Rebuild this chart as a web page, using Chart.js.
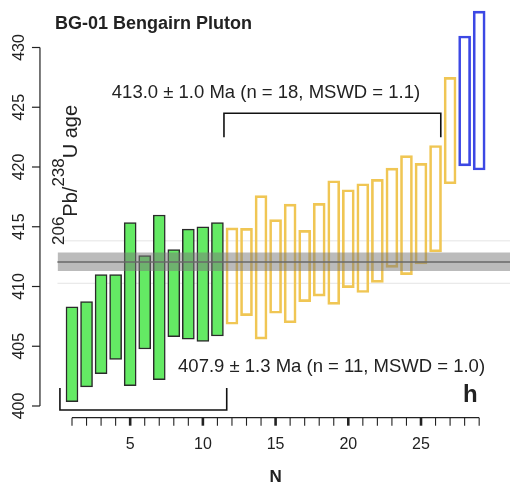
<!DOCTYPE html>
<html>
<head>
<meta charset="utf-8">
<script src="https://cdn.jsdelivr.net/npm/chart.js@4.4.1/dist/chart.umd.min.js"></script>
<style>
html,body{margin:0;padding:0;background:#fff;}
canvas{display:block;}
</style>
</head>
<body>
<canvas id="c" width="510" height="488"></canvas>
<script>
// ---------- data ----------
const greenN    = [1,2,3,4,5,6,7,8,9,10,11];
const greenLow  = [400.36,401.6,402.7,403.9,401.7,404.77,402.2,405.8,405.6,405.4,405.86];
const greenHigh = [408.3,408.73,411.0,411.0,415.34,412.58,415.98,413.1,414.8,415.0,415.34];

const yellowN    = [12,13,14,15,16,17,18,19,20,21,22,23,24,25,26,27];
const yellowLow  = [406.84,407.56,405.6,407.76,406.97,408.73,409.2,408.5,409.9,409.5,410.35,411.6,411.0,411.9,412.9,418.6];
const yellowHigh = [414.9,414.87,417.6,415.6,416.9,414.7,416.95,418.85,418.1,418.6,418.97,419.9,420.95,420.3,421.8,427.5];

const blueN    = [28,29];
const blueLow  = [420.1,419.75];
const blueHigh = [430.96,433.05];

const bandLow = 411.30, bandCentre = 412.05, bandHigh = 412.85;
const refLines = [410.27, 413.82];

const upperBracketX = [11.45, 26.36];
const upperBracketY = [422.5, 424.5];
const lowerBracketX = [0.17, 11.64];
const lowerBracketY = [401.5, 399.67];

const xTickValues = [1,2,3,4,5,6,7,8,9,10,11,12,13,14,15,16,17,18,19,20,21,22,23,24,25,26,27,28,29];
const xTickLabels = ['5','10','15','20','25'];
const xLabelValues = [5,10,15,20,25];
const yTickValues = [400,405,410,415,420,425,430];
const yTickLabels = ['400','405','410','415','420','425','430'];

const titleText  = 'BG-01 Bengairn Pluton';
const upperLabel = '413.0 \u00B1 1.0 Ma (n = 18, MSWD = 1.1)';
const lowerLabel = '407.9 \u00B1 1.3 Ma (n = 11, MSWD = 1.0)';
const panelLetter = 'h';
const xTitle = 'N';

// ---------- helpers ----------
const FONT = '"Liberation Sans", Arial, Helvetica, sans-serif';
const XMIN = 0, XMAX = 31.12;
function pts(ns, lo, hi){ return ns.map((n,i)=>({x:n, y:[lo[i], hi[i]]})); }
function hline(v){ return [{x:XMIN,y:v},{x:XMAX,y:v}]; }
function bracket(xs, ys){
  return [{x:xs[0],y:ys[0]},{x:xs[0],y:ys[1]},{x:xs[1],y:ys[1]},{x:xs[1],y:ys[0]}];
}

const barCommon = {type:'bar', grouped:false, barThickness:12, borderSkipped:false, clip:false, order:2};
const lineCommon = {type:'line', pointRadius:0, clip:false, tension:0, fill:false};

const rPlot = {
  id:'rPlot',
  afterDraw(chart){
    const ctx = chart.ctx, x = chart.scales.x, y = chart.scales.y;
    ctx.save();
    ctx.strokeStyle = '#222'; ctx.fillStyle = '#222';
    // x axis (detached, R style)
    const ax = y.getPixelForValue(400) + 11.7;
    ctx.lineWidth = 1.2;
    ctx.beginPath();
    ctx.moveTo(x.getPixelForValue(xTickValues[0]), ax);
    ctx.lineTo(x.getPixelForValue(xTickValues[xTickValues.length-1]), ax);
    ctx.stroke();
    xTickValues.forEach(v=>{
      const px = x.getPixelForValue(v);
      ctx.lineWidth = (xLabelValues.indexOf(v) >= 0) ? 2.6 : 1.1;
      ctx.beginPath(); ctx.moveTo(px, ax); ctx.lineTo(px, ax+8); ctx.stroke();
    });
    ctx.font = '16px ' + FONT;
    ctx.textAlign = 'center'; ctx.textBaseline = 'alphabetic';
    xLabelValues.forEach((v,i)=>{
      ctx.fillText(xTickLabels[i], x.getPixelForValue(v), ax + 31);
    });
    ctx.font = 'bold 17px ' + FONT;
    ctx.textBaseline = 'middle';
    ctx.fillText(xTitle, (x.getPixelForValue(1)+x.getPixelForValue(29))/2, ax + 60);

    // y axis
    const ay = x.getPixelForValue(0) - 17.5;
    ctx.lineWidth = 1.2;
    ctx.beginPath();
    ctx.moveTo(ay, y.getPixelForValue(yTickValues[0]));
    ctx.lineTo(ay, y.getPixelForValue(yTickValues[yTickValues.length-1]));
    ctx.stroke();
    ctx.font = '16px ' + FONT;
    yTickValues.forEach((v,i)=>{
      const py = y.getPixelForValue(v);
      ctx.lineWidth = 1.2;
      ctx.beginPath(); ctx.moveTo(ay, py); ctx.lineTo(ay-8, py); ctx.stroke();
      ctx.save();
      ctx.translate(ay-16, py);
      ctx.rotate(-Math.PI/2);
      ctx.textAlign = 'center'; ctx.textBaseline = 'alphabetic';
      ctx.fillText(yTickLabels[i], 0, 0);
      ctx.restore();
    });

    // y title with superscripts
    ctx.save();
    ctx.translate(ay + 37, y.getPixelForValue(400) - 161);
    ctx.rotate(-Math.PI/2);
    ctx.textAlign = 'left'; ctx.textBaseline = 'alphabetic';
    const parts = [['206',17,-13],['Pb/',20,0],['238',17,-13],['U age',20,0]];
    let cx = 0;
    parts.forEach(p=>{
      ctx.font = p[1] + 'px ' + FONT;
      ctx.fillText(p[0], cx, p[2]);
      cx += ctx.measureText(p[0]).width;
    });
    ctx.restore();

    // title
    ctx.font = 'bold 18px ' + FONT;
    ctx.textAlign = 'left'; ctx.textBaseline = 'middle';
    ctx.fillText(titleText, 55, 24);

    // age labels
    ctx.font = '18.5px ' + FONT;
    ctx.textAlign = 'center';
    ctx.fillText(upperLabel, x.getPixelForValue(14.34), y.getPixelForValue(426.19));
    ctx.fillText(lowerLabel, x.getPixelForValue(18.85), y.getPixelForValue(403.29));

    // panel letter
    ctx.font = 'bold 24px ' + FONT;
    ctx.textAlign = 'center'; ctx.textBaseline = 'alphabetic';
    ctx.fillText(panelLetter, x.getPixelForValue(28.4), y.getPixelForValue(400) - 4);
    ctx.restore();
  }
};

new Chart(document.getElementById('c'), {
  data: {
    datasets: [
      Object.assign({}, lineCommon, {data: hline(bandHigh), borderWidth:0, fill:{value:bandLow}, backgroundColor:'rgba(120,120,120,0.5)', order:0}),
      Object.assign({}, lineCommon, {data: hline(bandCentre), borderColor:'#5a5a5a', borderWidth:1.4, order:0}),
      Object.assign({}, lineCommon, {data: hline(refLines[0]), borderColor:'#e4e4e4', borderWidth:1, order:5}),
      Object.assign({}, lineCommon, {data: hline(refLines[1]), borderColor:'#e4e4e4', borderWidth:1, order:5}),
      Object.assign({}, barCommon, {data: pts(greenN, greenLow, greenHigh), backgroundColor:'rgb(100,234,100)', borderColor:'#2a2a2a', borderWidth:1.5}),
      Object.assign({}, barCommon, {data: pts(yellowN, yellowLow, yellowHigh), backgroundColor:'rgba(255,255,255,0)', borderColor:'rgb(240,198,84)', borderWidth:2}),
      Object.assign({}, barCommon, {data: pts(blueN, blueLow, blueHigh), backgroundColor:'rgba(255,255,255,0)', borderColor:'rgb(60,72,228)', borderWidth:2}),
      Object.assign({}, lineCommon, {data: bracket(upperBracketX, upperBracketY), borderColor:'#111', borderWidth:1.6, order:0}),
      Object.assign({}, lineCommon, {data: bracket(lowerBracketX, lowerBracketY), borderColor:'#111', borderWidth:1.6, order:0})
    ]
  },
  options: {
    responsive:false,
    animation:false,
    devicePixelRatio:1,
    layout:{padding:{left:57.46, right:0, top:47.5, bottom:82}},
    plugins:{legend:{display:false}, tooltip:{enabled:false}, title:{display:false}},
    scales:{
      x:{type:'linear', min:XMIN, max:XMAX, offset:false, grid:{offset:false}, display:false},
      y:{type:'linear', min:400, max:430, display:false}
    }
  },
  plugins:[rPlot]
});
</script>
</body>
</html>
